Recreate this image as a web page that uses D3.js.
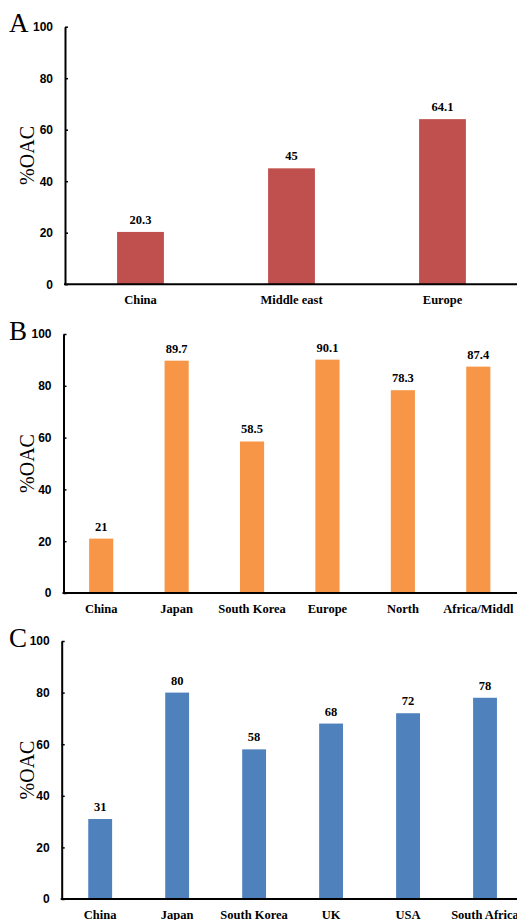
<!DOCTYPE html>
<html>
<head>
<meta charset="utf-8">
<script src="https://cdn.jsdelivr.net/npm/d3@7"></script>
<style>
  body { margin: 0; background: #fff; }
  svg { display: block; font-family: "Liberation Serif", "Times New Roman", serif; }
  .tick text { font-size: 12px; font-weight: bold; }
</style>
</head>
<body>
<svg id="chart"></svg>
<script>
// data
const regionsA = ["China", "Middle east", "Europe"];
const valuesA = [20.3, 45, 64.1];

const regionsB = ["China", "Japan", "South Korea", "Europe", "North", "Africa/Middl"];
const valuesB = [21, 89.7, 58.5, 90.1, 78.3, 87.4];

const countriesC = ["China", "Japan", "South Korea", "UK", "USA", "South Africa"];
const valuesC = [31, 80, 58, 68, 72, 78];

const yTicks = [0, 20, 40, 60, 80, 100];

const width = 517, height = 920;

const svg = d3.select("#chart")
    .attr("width", width)
    .attr("height", height);

// one panel = one bar chart
function drawPanel(cfg) {
  const g = svg.append("g");

  const x = d3.scaleBand()
      .domain(cfg.cats)
      .range([cfg.left, cfg.right])
      .paddingInner(cfg.pad)
      .paddingOuter(cfg.pad / 2);

  const y = d3.scaleLinear()
      .domain([0, 100])
      .range([cfg.bottom, cfg.top]);

  const data = cfg.cats.map((c, i) => ({cat: c, val: cfg.vals[i]}));

  g.selectAll(".bar")
      .data(data)
    .join("rect")
      .attr("class", "bar")
      .attr("x", d => x(d.cat))
      .attr("width", x.bandwidth())
      .attr("y", d => y(d.val))
      .attr("height", d => y(0) - y(d.val))
      .attr("fill", cfg.color);

  // value labels over the bars
  g.selectAll(".val")
      .data(data)
    .join("text")
      .attr("class", "val")
      .attr("x", d => x(d.cat) + x.bandwidth() / 2)
      .attr("y", d => y(d.val) - 8)
      .attr("text-anchor", "middle")
      .style("font-size", "12.5px")
      .style("font-weight", "bold")
      .text(d => d.val);

  // y axis, ticks pointing inward
  const yAxis = d3.axisLeft(y)
      .tickValues(yTicks)
      .tickSizeInner(-3)
      .tickSizeOuter(0)
      .tickPadding(12);

  g.append("g")
      .attr("transform", `translate(${cfg.left},0)`)
      .call(yAxis)
      .call(a => a.select(".domain").attr("stroke-width", 2))
      .call(a => a.selectAll(".tick line").attr("stroke-width", 1.5))
      .call(a => a.selectAll(".tick text").attr("fill", "#000"));

  // x axis line, no ticks
  g.append("line")
      .attr("x1", cfg.left - 1)
      .attr("x2", width)
      .attr("y1", y(0))
      .attr("y2", y(0))
      .attr("stroke", "#000")
      .attr("stroke-width", 2);

  g.selectAll(".cat")
      .data(cfg.cats)
    .join("text")
      .attr("class", "cat")
      .attr("x", d => x(d) + x.bandwidth() / 2)
      .attr("y", y(0) + 20)
      .attr("text-anchor", "middle")
      .style("font-size", "12.5px")
      .style("font-weight", "bold")
      .text(d => d);

  // y title
  g.append("text")
      .attr("transform", `translate(34,${(y(0) + y(100)) / 2}) rotate(-90)`)
      .attr("text-anchor", "middle")
      .style("font-size", "20px")
      .text("%OAC");

  // panel letter
  g.append("text")
      .attr("x", 9)
      .attr("y", cfg.letterY)
      .style("font-size", "27px")
      .text(cfg.letter);
}

drawPanel({letter: "A", letterY: 32, cats: regionsA, vals: valuesA, color: "#C0504D",
  left: 65, right: 518, top: 26.7, bottom: 284.2, pad: 0.69});

drawPanel({letter: "B", letterY: 340, cats: regionsB, vals: valuesB, color: "#F79646",
  left: 63.5, right: 516, top: 334, bottom: 593, pad: 0.68});

drawPanel({letter: "C", letterY: 647, cats: countriesC, vals: valuesC, color: "#4F81BD",
  left: 61.7, right: 523.5, top: 641, bottom: 899, pad: 0.69});
</script>
</body>
</html>
